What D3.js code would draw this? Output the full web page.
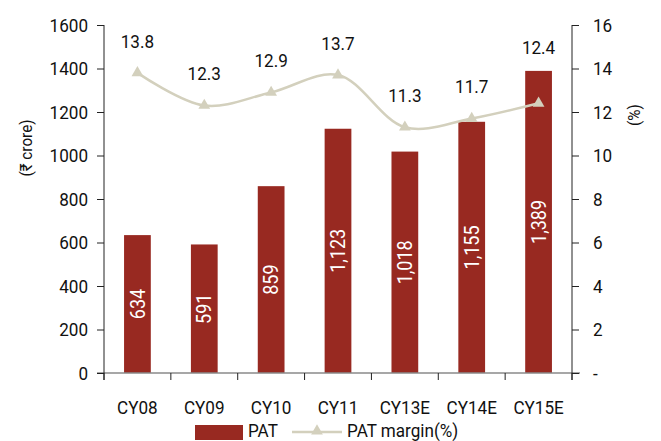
<!DOCTYPE html>
<html>
<head>
<meta charset="utf-8">
<script src="https://cdn.jsdelivr.net/npm/d3@7"></script>
<style>
  body { margin: 0; background: #fff; }
  svg text { font-family: Roboto, "Noto Sans", sans-serif; fill: #111; }
</style>
</head>
<body>
<svg id="chart" width="661" height="441"></svg>
<script>
// PAT (₹ crore) and PAT margin (%) by calendar year
const categories = ["CY08", "CY09", "CY10", "CY11", "CY13E", "CY14E", "CY15E"];
const patValues = [634, 591, 859, 1123, 1018, 1155, 1389];
const marginValues = [13.8, 12.3, 12.9, 13.7, 11.3, 11.7, 12.4];
const leftTicks = [0, 200, 400, 600, 800, 1000, 1200, 1400, 1600];
const rightTicks = [0, 2, 4, 6, 8, 10, 12, 14, 16];

const barColor = "#982921";
const lineColor = "#d3d0bd";
const SQ = 0.9; // horizontal squeeze for a condensed look

const svg = d3.select("#chart");
const plotLeft = 104, plotRight = 572, plotTop = 25, plotBottom = 373;

// condense text along its reading direction
function squeeze(sel) {
  sel.each(function () {
    const t = d3.select(this);
    const xv = +(t.attr("x") || 0);
    t.attr("x", xv / SQ);
    const tr = t.attr("transform") || "";
    t.attr("transform", (tr + ` scale(${SQ},1)`).trim());
  });
}

const x = d3.scaleBand().domain(categories).range([plotLeft, plotRight])
  .paddingInner(0.6).paddingOuter(0.3);
const yL = d3.scaleLinear().domain([0, 1600]).range([plotBottom, plotTop]);
const yR = d3.scaleLinear().domain([0, 16]).range([plotBottom, plotTop]);
const fmt = d3.format(",");
const cx = c => x(c) + x.bandwidth() / 2;

// bars
svg.append("g").selectAll("rect").data(patValues).join("rect")
  .attr("x", (d, i) => x(categories[i]))
  .attr("width", x.bandwidth())
  .attr("y", d => yL(d))
  .attr("height", d => yL(0) - yL(d))
  .attr("fill", barColor);

// values written vertically inside the bars
svg.append("g").selectAll("text").data(patValues).join("text")
  .attr("transform", (d, i) => `translate(${cx(categories[i])},${(yL(d) + yL(0)) / 2}) rotate(-90)`)
  .attr("text-anchor", "middle")
  .attr("dy", "0.36em")
  .style("font-size", "20px")
  .style("fill", "#fff")
  .text(d => fmt(d))
  .call(squeeze);

// x axis line and category separators
svg.append("line")
  .attr("x1", 97).attr("x2", 580).attr("y1", plotBottom).attr("y2", plotBottom)
  .attr("stroke", "#8a8a8a").attr("stroke-width", 1.5);
const seps = d3.range(categories.length + 1).map(i => plotLeft + i * x.step());
svg.append("g").selectAll("line").data(seps).join("line")
  .attr("x1", d => d).attr("x2", d => d)
  .attr("y1", plotBottom).attr("y2", plotBottom + 7)
  .attr("stroke", "#222").attr("stroke-width", 1);

// category labels
svg.append("g").selectAll("text").data(categories).join("text")
  .attr("x", d => cx(d))
  .attr("y", 414)
  .attr("text-anchor", "middle")
  .style("font-size", "19px")
  .text(d => d)
  .call(squeeze);

// left axis
const gL = svg.append("g").attr("transform", `translate(${plotLeft},0)`)
  .call(d3.axisLeft(yL).tickValues(leftTicks).tickSize(7).tickPadding(9).tickFormat(d3.format("d")));
gL.select(".domain").attr("stroke", "#222").attr("d", `M0,${plotTop}V${plotBottom + 7}`);
gL.selectAll(".tick line").attr("stroke", "#222");
gL.selectAll(".tick text").style("font-size", "19px").attr("fill", "#111").call(squeeze);

// right axis
const gR = svg.append("g").attr("transform", `translate(${plotRight},0)`)
  .call(d3.axisRight(yR).tickValues(rightTicks).tickSize(7).tickPadding(14)
    .tickFormat(d => d === 0 ? "-" : d));
gR.select(".domain").attr("stroke", "#222").attr("d", `M0,${plotTop}V${plotBottom + 7}`);
gR.selectAll(".tick line").attr("stroke", "#222");
gR.selectAll(".tick text").style("font-size", "19px").attr("fill", "#111").call(squeeze);

// axis titles
svg.append("text")
  .attr("transform", `translate(26,148) rotate(-90)`)
  .attr("text-anchor", "middle").attr("dy", "0.35em")
  .style("font-size", "17px")
  .text("(₹ crore)")
  .call(squeeze);
svg.append("text")
  .attr("transform", `translate(634,115) rotate(-90)`)
  .attr("text-anchor", "middle").attr("dy", "0.35em")
  .style("font-size", "17px")
  .text("(%)")
  .call(squeeze);

// margin line with triangle markers
const pts = marginValues.map((v, i) => [cx(categories[i]), yR(v)]);
svg.append("path")
  .attr("d", d3.line().curve(d3.curveCatmullRom.alpha(0.5))(pts))
  .attr("fill", "none").attr("stroke", lineColor).attr("stroke-width", 2.5);
svg.append("g").selectAll("path").data(pts).join("path")
  .attr("transform", d => `translate(${d[0]},${d[1]})`)
  .attr("d", d3.symbol(d3.symbolTriangle, 60))
  .attr("fill", lineColor);

// margin labels: above the point, lifted clear of a taller bar
svg.append("g").selectAll("text").data(marginValues).join("text")
  .attr("x", (d, i) => pts[i][0])
  .attr("y", (d, i) => Math.min(pts[i][1] - 32, yL(patValues[i]) - 24))
  .attr("dy", "0.36em")
  .attr("text-anchor", "middle")
  .style("font-size", "19px")
  .text(d => d.toFixed(1))
  .call(squeeze);

// legend
const lg = svg.append("g");
lg.append("rect").attr("x", 195).attr("y", 425).attr("width", 48).attr("height", 15).attr("fill", barColor);
lg.append("text").attr("x", 248).attr("y", 437).style("font-size", "19px").text("PAT").call(squeeze);
lg.append("line").attr("x1", 292).attr("x2", 342).attr("y1", 432).attr("y2", 432)
  .attr("stroke", lineColor).attr("stroke-width", 2.5);
lg.append("path").attr("transform", "translate(317,431)")
  .attr("d", d3.symbol(d3.symbolTriangle, 60)).attr("fill", lineColor);
lg.append("text").attr("x", 347).attr("y", 437).style("font-size", "19px").text("PAT margin(%)").call(squeeze);
</script>
</body>
</html>
